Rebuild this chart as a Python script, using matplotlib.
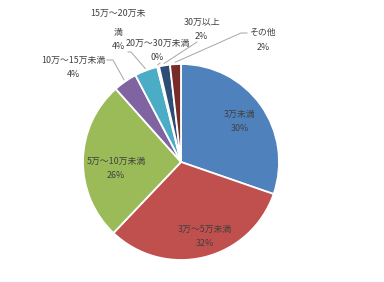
import matplotlib.pyplot as plt
import numpy as np

plt.rcParams['font.family'] = ['Noto Sans CJK JP', 'DejaVu Sans']

categories = ["3万未満", "3万～5万未満", "5万～10万未満", "10万～15万未満",
              "15万～20万未満", "20万～30万未満", "30万以上", "その他"]
share = [30.3, 31.8, 26.3, 3.9, 3.8, 0.3, 1.8, 1.8]
colors = ["#4F81BD", "#C0504D", "#9BBB59", "#8064A2",
          "#4BACC6", "#F79646", "#2C4D75", "#772C2A"]

W, H = 384, 282
CX, CY, R = 181, 162, 98


def px(x, y):
    # image pixel -> pie units
    return (x - CX) / R, (CY - y) / R


fig = plt.figure(figsize=(W / 100, H / 100), dpi=100)
ax = fig.add_axes([0, 0, 1, 1])

wedges, _ = ax.pie(share, colors=colors, startangle=90, counterclock=False,
                   radius=1, center=(0, 0), frame=True,
                   wedgeprops=dict(edgecolor="white", linewidth=1.3))
ax.set_xlim(-CX / R, (W - CX) / R)
ax.set_ylim(-(H - CY) / R, CY / R)
ax.axis("off")

tc = "#404040"
fs = 6.4
pct = [f"{v:.0f}%" for v in share]

# label name position and percent position (image pixels)
label_pos = [
    ((240, 114), (240, 128)),
    ((205, 229), (205, 243)),
    ((116, 161), (116, 175)),
    ((73, 60), (73, 74)),
    ((118, 13), (118, 46)),
    ((158, 43), (157, 57)),
    ((202, 22), (201, 36)),
    ((262, 32), (263, 47)),
]

for i, (n, p) in enumerate(label_pos):
    if i == 4:
        # this label wraps in the original
        ax.text(*px(118, 13), "15万～20万未", ha="center", va="center", fontsize=fs, color=tc)
        ax.text(*px(118, 32), "満", ha="center", va="center", fontsize=fs, color=tc)
    else:
        ax.text(*px(*n), categories[i], ha="center", va="center", fontsize=fs, color=tc)
    ax.text(*px(*p), pct[i], ha="center", va="center", fontsize=fs, color=tc)

# leader lines: label-side points (image pixels), pie side from wedge angle
leaders = {
    3: [(107, 60), (113, 60)],
    4: [(128, 52), (131, 52)],
    5: [(160, 63)],
    6: [(197, 42)],
    7: [(247, 33), (241, 33)],
}
for i, pts in leaders.items():
    w = wedges[i]
    mid = np.deg2rad((w.theta1 + w.theta2) / 2)
    end = (1.02 * np.cos(mid), 1.02 * np.sin(mid))
    xs = [px(*q)[0] for q in pts] + [end[0]]
    ys = [px(*q)[1] for q in pts] + [end[1]]
    ax.plot(xs, ys, color="#A6A6A6", linewidth=0.7)

fig.savefig("out.png", dpi=100, facecolor="white")
